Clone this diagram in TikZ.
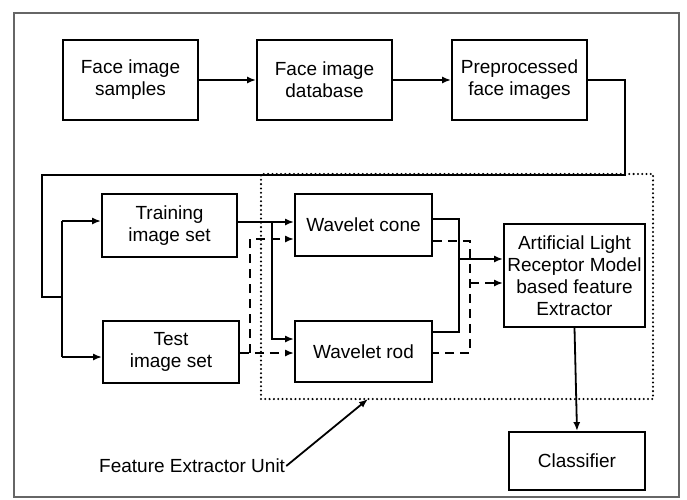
\documentclass[tikz,border=0pt]{standalone}
\usepackage{fontspec}
\setmainfont{Liberation Sans}
\usetikzlibrary{arrows.meta}
\begin{document}
\begin{tikzpicture}[x=1pt,y=-1pt,
  box/.style={draw, line width=1.8pt, align=center, inner sep=1pt,
    font=\fontsize{19}{22}\selectfont},
  conn/.style={line width=1.8pt},
  arr/.style={line width=1.8pt, -{Latex[length=9pt,width=7pt]}},
  dsh/.style={line width=1.8pt, dash pattern=on 9pt off 6pt},
  darr/.style={dsh, -{Latex[length=9pt,width=7pt]}}]
\useasboundingbox (0,0) rectangle (687,499);
\draw[gray!80!black, line width=2.2pt] (14,13) rectangle (679,497);
% top row
\node[box, minimum width=135pt, minimum height=80pt] (s1) at (130.5,80) {Face image\\samples};
\node[box, minimum width=135pt, minimum height=80pt] (s2) at (324.5,80) {Face image\\database};
\node[box, minimum width=135pt, minimum height=80pt] (s3) at (519.5,80) {Preprocessed\\face images};
% middle
\node[box, minimum width=135pt, minimum height=63pt] (train) at (169.5,225.5) {Training\\image set};
\node[box, minimum width=136pt, minimum height=62pt] (test) at (171,352) {Test\\image set};
\node[box, minimum width=137pt, minimum height=62pt] (cone) at (363.5,225) {Wavelet cone};
\node[box, minimum width=137pt, minimum height=61pt] (rod) at (363.5,351.5) {Wavelet rod};
\node[box, minimum width=141pt, minimum height=103pt] (alrm) at (574.5,275.5) {Artificial Light\\Receptor Model\\based feature\\Extractor};
\node[box, minimum width=136pt, minimum height=58pt] (cls) at (577,461) {Classifier};
\node[draw, line width=2.3pt, dash pattern=on 0pt off 4.3pt, line cap=round, minimum width=392pt, minimum height=225pt] (feu) at (457,286.5) {};
\node[font=\fontsize{19}{22}\selectfont, anchor=west, inner sep=1pt] (lbl) at (98,466) {Feature Extractor Unit};
% coordinates
\coordinate (p1) at (625,80);
\coordinate (p2) at (625,175);
\coordinate (p3) at (42,175);
\coordinate (p4) at (42,297);
\coordinate (j) at (62,297);
\coordinate (jt) at (62,221);
\coordinate (jb) at (62,357);
\coordinate (b1) at (272,222);
\coordinate (b2) at (272,339);
\coordinate (d1) at (250,353);
\coordinate (d2) at (250,239);
\coordinate (c1) at (459,219);
\coordinate (c2) at (459,332);
\coordinate (cm) at (459,259);
\coordinate (e1) at (470,241);
\coordinate (e2) at (470,353);
\coordinate (em) at (470,283);
\coordinate (ft) at (368,399);
% connectors
\draw[arr] (s1.east) -- (s2.west);
\draw[arr] (s2.east) -- (s3.west);
\draw[conn] (s3.east) -- (p1) -- (p2) -- (p3) -- (p4) -- (j);
\draw[conn] (jt) -- (jb);
\draw[arr] (jt) -- (jt -| train.west);
\draw[arr] (jb) -- (jb -| test.west);
\draw[arr] (b1 -| train.east) -- (b1 -| cone.west);
\draw[arr] (b1) -- (b2) -- (b2 -| rod.west);
\draw[darr] (d1 -| test.east) -- (d1 -| rod.west);
\draw[darr] (d1) -- (d2) -- (d2 -| cone.west);
\draw[conn] (c1 -| cone.east) -- (c1) -- (c2) -- (c2 -| rod.east);
\draw[arr] (cm) -- (cm -| alrm.west);
\draw[dsh] (e1 -| cone.east) -- (e1) -- (e2) -- (e2 -| rod.east);
\draw[darr] (em) -- (em -| alrm.west);
\draw[arr] (alrm.south) -- (cls.north);
\draw[arr] (lbl.east) -- (ft);
\end{tikzpicture}
\end{document}
